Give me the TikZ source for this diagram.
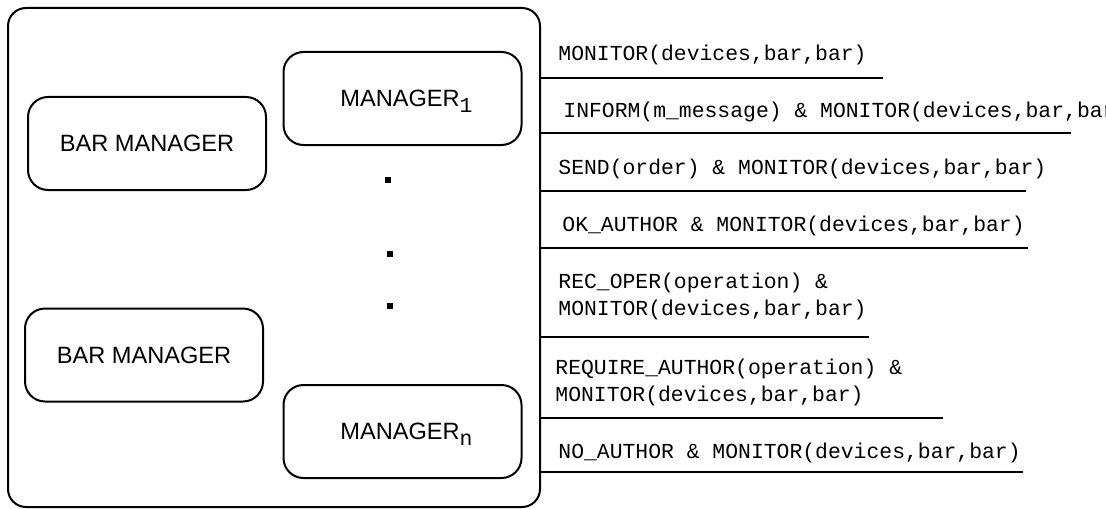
\documentclass[tikz,border=0pt]{standalone}
\usepackage{fontspec}
\setsansfont{Liberation Sans}
\setmonofont{Liberation Mono}
\newcommand{\mgrsub}[1]{\raisebox{-3pt}{\fontsize{10.7}{12}\ttfamily #1}}
\begin{document}
\begin{tikzpicture}[x=0.5pt,y=-0.5pt,
  box/.style={draw,line width=1pt,rounded corners=10pt,minimum width=119pt,minimum height=46.5pt,
    inner sep=0pt,text depth=0pt,font=\fontsize{11.8}{14}\sffamily},
  msg/.style={anchor=base west,inner sep=0pt,align=left,font=\fontsize{10.7}{13.3}\ttfamily},
  dot/.style={fill,minimum size=3pt,inner sep=0pt}]
  \useasboundingbox (0,0) rectangle (1106,508);
  \draw [line width=1pt,rounded corners=9pt] (8,8) rectangle (540,507);
  \node [box] (bar1) at (147,143.5) {BAR MANAGER};
  \node [box] (bar2) at (144,355) {BAR MANAGER};
  \node [box] (mgr1) at (402.5,98.5) {\hspace*{4pt}MANAGER\mgrsub{1}};
  \node [box] (mgrn) at (402.5,431.5) {\hspace*{4pt}MANAGER\mgrsub{n}};
  \node [dot] (dot1) at (388,180) {};
  \node [dot] (dot2) at (390,254) {};
  \node [dot] (dot3) at (390,306) {};
  \foreach \y/\e in {78/883,133/1071,191/1026,248/1028,337/869,418/943,472/1023}
    \draw [line width=1.2pt] (540,\y) -- (\e,\y);
  \node [msg] (msg1) at (558,61) {MONITOR(devices,bar,bar)};
  \node [msg] (msg2) at (563,118) {INFORM(m\_message) \& MONITOR(devices,bar,bar)};
  \node [msg] (msg3) at (558,174) {SEND(order) \& MONITOR(devices,bar,bar)};
  \node [msg] (msg4) at (562,231) {OK\_AUTHOR \& MONITOR(devices,bar,bar)};
  \node [msg] (msg5) at (558,315) {REC\_OPER(operation) \&\\MONITOR(devices,bar,bar)};
  \node [msg] (msg6) at (555,401) {REQUIRE\_AUTHOR(operation) \&\\MONITOR(devices,bar,bar)};
  \node [msg] (msg7) at (558,458) {NO\_AUTHOR \& MONITOR(devices,bar,bar)};
\end{tikzpicture}
\end{document}
